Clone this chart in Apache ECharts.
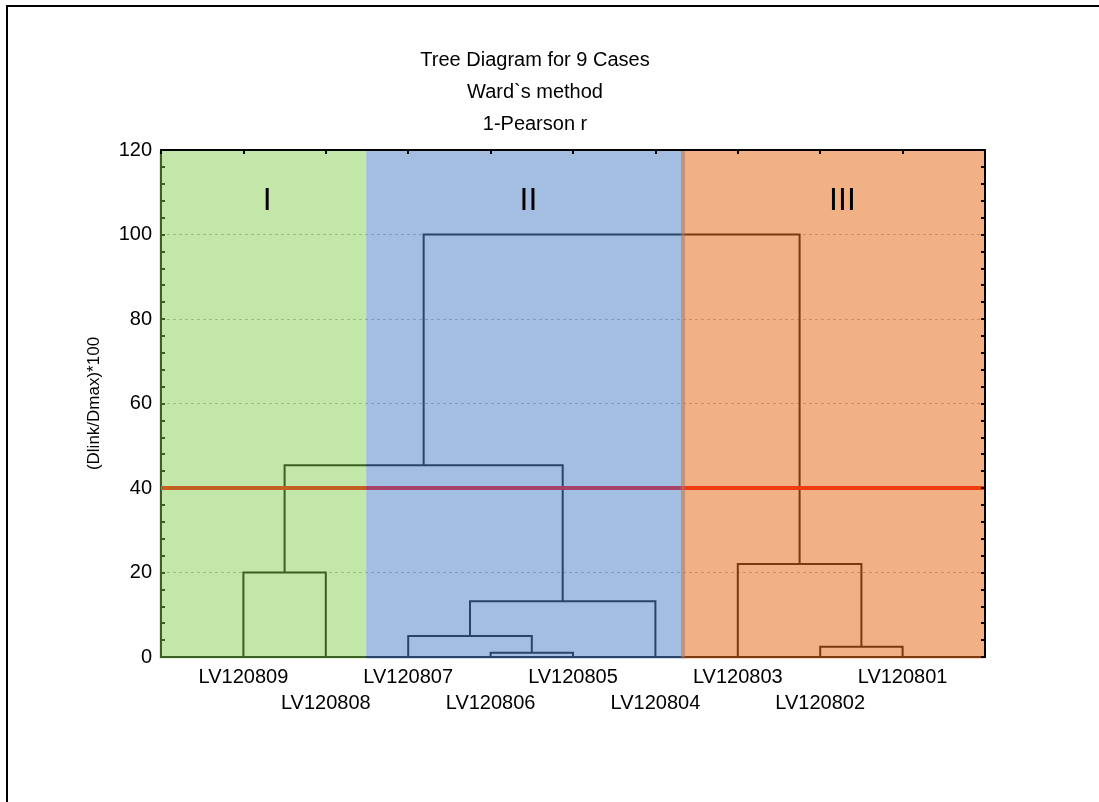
<!DOCTYPE html>
<html>
<head>
<meta charset="utf-8">
<title>Tree Diagram for 9 Cases</title>
<script src="https://cdn.jsdelivr.net/npm/echarts@6/dist/echarts.min.js"></script>
<style>
  html, body { margin: 0; padding: 0; background: #fff; }
  #chart { width: 1099px; height: 802px; }
</style>
</head>
<body>
<div id="chart"></div>
<script>
// Leaves in dendrogram order (left to right)
const leafLabels = ['LV120809', 'LV120808', 'LV120807', 'LV120806', 'LV120805',
                    'LV120804', 'LV120803', 'LV120802', 'LV120801'];

// Ward linkage steps: nodes 0..8 are leaves, node 9+k is created by merge k
const mergeLeft   = [0, 3, 2, 11, 9, 7, 6, 13];
const mergeRight  = [1, 4, 10, 5, 12, 8, 14, 15];
const mergeHeight = [20.0, 1.0, 5.0, 13.2, 45.4, 2.4, 22.0, 100.0];

// Cut level for the cluster split
const cutLevel = 40;

// Shaded cluster bands along the leaf axis
const regionNames  = ['I', 'II', 'III'];
const regionFrom   = [0, 2.49, 6.31];
const regionTo     = [2.49, 6.36, 10];
const regionLabelX = [1.29, 4.46, 8.27];
const regionLabelY = 108;
const regionColors = ['rgba(128,201,73,0.47)', 'rgba(80,130,199,0.52)', 'rgba(228,108,26,0.535)'];

const yTickLabels = [0, 20, 40, 60, 80, 100, 120];

const FONT = '"Liberation Sans", Arial, sans-serif';

// Node positions: leaves sit at 1..9, merged clusters at the midpoint of their children
const nodeX = leafLabels.map((_, i) => i + 1);
const nodeH = leafLabels.map(() => 0);
mergeLeft.forEach((l, k) => {
  const r = mergeRight[k];
  nodeX.push((nodeX[l] + nodeX[r]) / 2);
  nodeH.push(mergeHeight[k]);
});
const linkData = mergeLeft.map((l, k) => {
  const r = mergeRight[k];
  return [nodeX[l], nodeH[l], nodeX[r], nodeH[r], mergeHeight[k]];
});

const regionData = regionNames.map((n, i) => [regionFrom[i], regionTo[i]]);
const regionLabelData = regionNames.map((n, i) => [regionLabelX[i], regionLabelY, n]);

const chart = echarts.init(document.getElementById('chart'), null, { renderer: 'canvas' });

chart.setOption({
  animation: false,
  backgroundColor: '#ffffff',
  textStyle: { fontFamily: FONT },
  grid: { left: 161, right: 114, top: 150, bottom: 145, containLabel: false },
  graphic: [
    { type: 'rect', shape: { x: 7, y: 6, width: 1200, height: 1000 },
      style: { fill: null, stroke: '#000', lineWidth: 2 }, z: 100 },
    { type: 'text', x: 535, y: 60, style: { text: 'Tree Diagram for 9 Cases', font: '20px ' + FONT,
      fill: '#000', textAlign: 'center', textVerticalAlign: 'middle' } },
    { type: 'text', x: 535, y: 92, style: { text: 'Ward`s method', font: '20px ' + FONT,
      fill: '#000', textAlign: 'center', textVerticalAlign: 'middle' } },
    { type: 'text', x: 535, y: 124, style: { text: '1-Pearson r', font: '20px ' + FONT,
      fill: '#000', textAlign: 'center', textVerticalAlign: 'middle' } }
  ],
  xAxis: [
    {
      type: 'value', position: 'bottom', min: 0, max: 10, interval: 1, z: 0,
      axisLine: { show: true, onZero: false, lineStyle: { color: '#000', width: 2 } },
      axisTick: { show: false },
      splitLine: { show: false },
      axisLabel: {
        show: true, margin: 7, fontSize: 20, lineHeight: 26, color: '#000', fontFamily: FONT,
        formatter: v => {
          const i = Math.round(v) - 1;
          if (i < 0 || i >= leafLabels.length) return '';
          return i % 2 === 0 ? leafLabels[i] : '\n' + leafLabels[i];
        }
      }
    },
    {
      type: 'value', position: 'top', min: 0, max: 10, interval: 1, z: 10,
      axisLine: { show: true, onZero: false, lineStyle: { color: '#000', width: 2 } },
      axisTick: { show: true, inside: true, length: 4, lineStyle: { color: '#000', width: 2 } },
      axisLabel: { show: false },
      splitLine: { show: false }
    }
  ],
  yAxis: [
    {
      type: 'value', position: 'left', min: 0, max: 120, interval: 20, z: 0,
      name: '(Dlink/Dmax)*100', nameLocation: 'middle', nameGap: 58, nameRotate: 90,
      nameTextStyle: { fontSize: 17, color: '#000', fontFamily: FONT },
      axisLine: { show: true, onZero: false, lineStyle: { color: '#000', width: 2 } },
      axisTick: { show: true, inside: true, length: 4, lineStyle: { color: '#000', width: 2 } },
      minorTick: { show: true, splitNumber: 5, length: 4, lineStyle: { color: '#000', width: 2 } },
      axisLabel: {
        show: true, margin: 9, fontSize: 20, color: '#000', fontFamily: FONT,
        formatter: v => (yTickLabels.indexOf(v) >= 0 ? String(v) : '')
      },
      splitLine: { show: true, lineStyle: { color: '#b4b4b4', width: 1, type: [3, 3] } }
    },
    {
      type: 'value', position: 'right', min: 0, max: 120, interval: 4, z: 10,
      axisLine: { show: true, onZero: false, lineStyle: { color: '#000', width: 2 } },
      axisTick: { show: true, inside: true, length: 4, lineStyle: { color: '#000', width: 2 } },
      axisLabel: { show: false },
      splitLine: { show: false }
    }
  ],
  series: [
    {
      // dendrogram links
      type: 'custom', name: 'links', xAxisIndex: 0, yAxisIndex: 0, z: 2, silent: true,
      data: linkData,
      encode: { x: [0, 2], y: [1, 3, 4] },
      renderItem: (params, api) => {
        const xl = api.value(0), hl = api.value(1), xr = api.value(2), hr = api.value(3), h = api.value(4);
        return {
          type: 'polyline',
          shape: { points: [api.coord([xl, hl]), api.coord([xl, h]), api.coord([xr, h]), api.coord([xr, hr])] },
          style: { stroke: '#000', lineWidth: 2, fill: null }
        };
      }
    },
    {
      // cut level
      type: 'line', name: 'cut', xAxisIndex: 0, yAxisIndex: 0, z: 3, silent: true,
      symbol: 'none',
      data: [[0, cutLevel], [10, cutLevel]],
      lineStyle: { color: '#ff0000', width: 4 }
    },
    {
      // translucent cluster bands laid over the tree
      type: 'custom', name: 'bands', xAxisIndex: 0, yAxisIndex: 0, z: 5, silent: true, clip: false,
      data: regionData,
      encode: { x: [0, 1] },
      renderItem: (params, api) => {
        const p0 = api.coord([api.value(0), 120]);
        const p1 = api.coord([api.value(1), 0]);
        const padL = params.dataIndex === 0 ? 1.5 : 0;
        return {
          type: 'rect',
          shape: { x: p0[0] - padL, y: p0[1] + 1, width: p1[0] - p0[0] + padL, height: p1[1] - p0[1] + 0.5 },
          style: { fill: regionColors[params.dataIndex] }
        };
      }
    },
    {
      // cluster names
      type: 'custom', name: 'bandNames', xAxisIndex: 0, yAxisIndex: 0, z: 10, silent: true,
      data: regionLabelData,
      encode: { x: 0, y: 1 },
      renderItem: (params, api) => {
        const p = api.coord([api.value(0), api.value(1)]);
        return {
          type: 'text', x: p[0], y: p[1],
          style: { text: regionNames[params.dataIndex], font: '32px ' + FONT, fill: '#000',
                   textAlign: 'center', textVerticalAlign: 'middle' }
        };
      }
    }
  ]
});
</script>
</body>
</html>
